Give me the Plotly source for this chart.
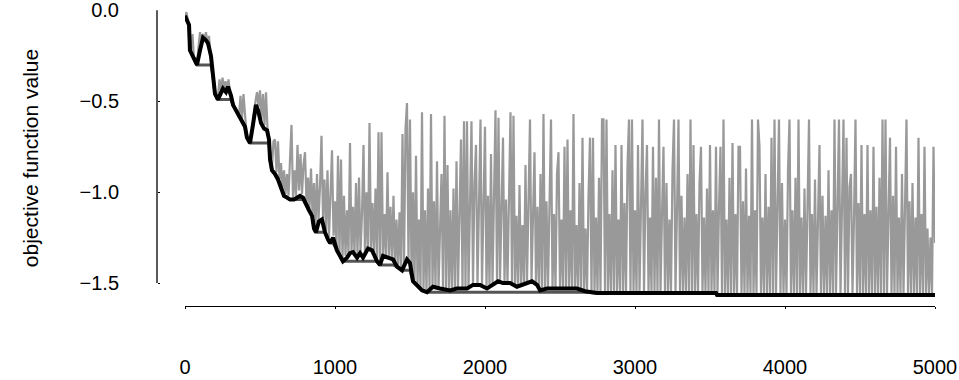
import plotly.graph_objects as go

# Simulated-annealing trace: proposed objective values (every 10th iteration)
proposal_step = 10
proposal_values = [
    -0.03, -0.01, -0.06, -0.15, -0.22, -0.13, -0.27, -0.26, -0.30, -0.20, -0.12, -0.18, -0.13, -0.16, -0.12, -0.19, -0.14, -0.24, -0.30, -0.40,
    -0.45, -0.49, -0.47, -0.38, -0.44, -0.37, -0.43, -0.39, -0.44, -0.38, -0.45, -0.47, -0.50, -0.53, -0.54, -0.56, -0.58, -0.47, -0.60, -0.46,
    -0.55, -0.68, -0.71, -0.72, -0.70, -0.62, -0.55, -0.50, -0.45, -0.53, -0.44, -0.60, -0.46, -0.63, -0.45, -0.65, -0.70, -0.81, -0.86, -0.72,
    -0.71, -0.89, -0.72, -0.93, -0.84, -0.98, -0.88, -1.01, -0.90, -1.02, -0.82, -0.63, -1.03, -0.88, -1.02, -0.74, -0.99, -0.79, -1.01, -0.85,
    -0.78, -1.06, -0.92, -1.09, -0.87, -1.12, -0.95, -1.20, -0.90, -1.15, -0.97, -0.69, -1.14, -0.93, -1.21, -0.88, -1.25, -0.99, -0.77, -1.24,
    -1.05, -1.31, -0.80, -1.34, -0.82, -1.37, -1.02, -1.35, -1.10, -1.34, -0.73, -1.33, -1.08, -1.34, -0.95, -1.35, -0.92, -1.33, -1.12, -0.74,
    -1.35, -1.00, -1.31, -0.62, -1.32, -1.06, -1.33, -0.98, -1.37, -0.67, -1.39, -0.67, -1.35, -1.12, -1.36, -0.89, -1.36, -1.08, -1.37, -1.02,
    -1.40, -1.15, -1.41, -1.11, -1.43, -0.68, -1.42, -0.65, -0.51, -1.38, -0.60, -1.45, -1.00, -1.50, -0.80, -1.51, -1.15, -1.53, -0.56, -1.54,
    -1.10, -1.55, -0.98, -1.53, -0.57, -1.52, -1.05, -1.53, -0.83, -1.53, -1.12, -0.90, -1.53, -0.58, -1.54, -0.85, -1.54, -1.10, -1.54, -0.98,
    -1.53, -0.83, -1.53, -1.12, -0.71, -1.53, -0.61, -1.53, -0.61, -1.53, -1.08, -0.61, -1.51, -0.95, -0.74, -1.51, -1.07, -0.60, -1.51, -1.15,
    -0.64, -1.52, -1.02, -1.52, -0.79, -1.51, -1.06, -0.55, -1.49, -0.59, -1.49, -1.09, -0.70, -1.50, -1.04, -1.50, -0.92, -0.56, -1.50, -0.58,
    -1.51, -1.13, -1.52, -0.96, -1.51, -1.18, -1.51, -0.85, -1.50, -1.06, -0.60, -1.49, -1.10, -0.78, -1.51, -1.08, -1.53, -0.90, -1.54, -0.57,
    -1.53, -1.05, -1.53, -0.98, -0.60, -1.53, -1.12, -1.53, -0.90, -0.78, -1.53, -1.15, -1.53, -0.75, -1.53, -0.71, -1.53, -1.10, -1.53, -0.57,
    -1.53, -1.18, -1.54, -0.95, -1.54, -0.70, -1.54, -1.20, -1.55, -1.02, -0.70, -1.55, -0.70, -1.55, -1.14, -1.55, -0.92, -1.55, -0.60, -0.60,
    -1.55, -0.60, -1.55, -1.12, -1.55, -0.88, -1.55, -0.74, -1.55, -1.15, -1.55, -0.74, -1.55, -1.06, -1.55, -0.85, -0.60, -1.55, -0.60, -1.55,
    -1.10, -1.55, -0.74, -1.55, -1.13, -0.60, -1.55, -1.00, -0.74, -1.55, -1.14, -1.55, -0.75, -1.55, -0.92, -1.55, -0.60, -1.55, -1.12, -0.75,
    -1.55, -0.95, -1.55, -1.15, -1.55, -0.88, -0.60, -1.55, -1.10, -0.60, -1.55, -1.02, -1.55, -1.14, -1.55, -0.90, -1.55, -0.60, -1.55, -0.74,
    -1.55, -1.12, -1.55, -0.95, -0.75, -1.55, -1.14, -1.55, -0.98, -1.55, -0.74, -1.55, -1.10, -1.55, -0.75, -1.56, -1.08, -0.75, -1.56, -0.60,
    -1.56, -1.15, -1.56, -0.92, -1.56, -0.73, -1.56, -1.12, -1.56, -0.75, -0.75, -1.56, -1.05, -1.56, -0.87, -1.56, -1.13, -1.56, -0.60, -1.56,
    -1.10, -1.56, -0.60, -0.75, -1.56, -1.14, -1.56, -0.90, -1.56, -1.08, -1.56, -0.70, -1.56, -0.60, -1.56, -1.12, -0.60, -1.56, -0.95, -1.56,
    -1.15, -1.56, -0.88, -0.60, -1.56, -1.10, -1.56, -0.92, -1.56, -0.60, -1.56, -1.14, -1.56, -0.98, -1.56, -1.08, -0.60, -1.56, -1.12, -1.56,
    -0.93, -1.56, -1.15, -0.74, -1.56, -1.02, -1.56, -1.13, -1.56, -0.88, -1.56, -1.10, -1.56, -0.60, -1.56, -0.96, -0.60, -1.56, -1.12, -0.60,
    -1.56, -0.70, -1.56, -0.97, -0.90, -1.56, -1.14, -0.60, -1.56, -1.06, -1.56, -0.74, -1.56, -1.12, -1.56, -0.74, -1.56, -1.10, -1.56, -0.75,
    -1.56, -1.08, -1.56, -0.92, -1.56, -0.60, -1.56, -0.60, -1.56, -1.12, -0.70, -1.56, -1.02, -1.56, -0.75, -1.56, -1.14, -1.56, -0.90, -1.56,
    -1.10, -0.60, -1.56, -1.05, -1.56, -0.95, -1.56, -1.14, -1.56, -0.70, -1.56, -1.12, -1.56, -0.75, -1.56, -1.20, -1.56, -1.25, -1.56, -0.75,
    -1.28,
]
proposal_iter = [i * proposal_step for i in range(len(proposal_values))]

# Current state of the chain
current_iter = [
    0, 13, 27, 33, 53, 80, 100, 120, 140, 153, 173, 187, 200, 220, 240, 253, 273, 287, 307, 320,
    340, 367, 387, 400, 413, 433, 453, 473, 487, 507, 527, 547, 560, 567, 580, 600, 620, 640, 660, 680,
    700, 727, 747, 767, 787, 807, 827, 847, 860, 873, 893, 913, 933, 953, 967, 987, 1013, 1053, 1080, 1100,
    1120, 1147, 1167, 1187, 1220, 1247, 1280, 1300, 1320, 1353, 1387, 1413, 1447, 1480, 1500, 1520, 1547, 1580, 1613, 1653,
    1700, 1767, 1813, 1880, 1920, 1967, 2013, 2053, 2087, 2120, 2167, 2213, 2253, 2313, 2347, 2367, 2413, 2480, 2547, 2613,
    2667, 2747, 2987, 3540, 3547, 5000,
]
current_values = [
    -0.03, -0.05, -0.08, -0.22, -0.25, -0.30, -0.22, -0.15, -0.165, -0.18, -0.25, -0.36, -0.46, -0.49, -0.45, -0.43, -0.45, -0.42, -0.47, -0.52,
    -0.55, -0.59, -0.62, -0.64, -0.70, -0.73, -0.63, -0.52, -0.55, -0.62, -0.65, -0.66, -0.71, -0.82, -0.88, -0.90, -0.93, -0.97, -1.02, -1.03,
    -1.04, -1.04, -1.03, -1.02, -1.03, -1.07, -1.10, -1.13, -1.20, -1.22, -1.16, -1.15, -1.22, -1.26, -1.28, -1.25, -1.32, -1.38, -1.36, -1.335,
    -1.33, -1.36, -1.335, -1.36, -1.31, -1.32, -1.38, -1.40, -1.35, -1.36, -1.37, -1.41, -1.43, -1.37, -1.39, -1.49, -1.51, -1.54, -1.55, -1.52,
    -1.53, -1.54, -1.53, -1.53, -1.51, -1.51, -1.53, -1.51, -1.49, -1.50, -1.50, -1.52, -1.51, -1.49, -1.51, -1.54, -1.53, -1.53, -1.53, -1.53,
    -1.545, -1.555, -1.555, -1.555, -1.566, -1.566,
]

# Best value found so far
best_values = []
running = float("inf")
for v in current_values:
    running = min(running, v)
    best_values.append(running)

y_ticks = [0.0, -0.5, -1.0, -1.5]
x_ticks = [0, 1000, 2000, 3000, 4000, 5000]

FONT = "Liberation Sans, Arial, Helvetica, sans-serif"

fig = go.Figure()
fig.add_trace(go.Scatter(
    x=proposal_iter, y=proposal_values, mode="lines",
    line=dict(color="#999999", width=2.2), hoverinfo="skip", showlegend=False,
))
fig.add_trace(go.Scatter(
    x=current_iter, y=best_values, mode="lines",
    line=dict(color="#555555", width=3), hoverinfo="skip", showlegend=False,
))
fig.add_trace(go.Scatter(
    x=current_iter, y=current_values, mode="lines",
    line=dict(color="#000000", width=4, shape="linear"), hoverinfo="skip", showlegend=False,
))

# Left axis line spans only the labelled range
fig.add_shape(type="line", xref="paper", yref="y", x0=0, x1=0,
              y0=y_ticks[0], y1=y_ticks[-1], line=dict(color="black", width=1.3))

plot_w = 959 - 157 - 24
fig.update_layout(
    width=959, height=380,
    margin=dict(l=157, r=24, t=10, b=74),
    paper_bgcolor="white", plot_bgcolor="white",
    font=dict(family=FONT, size=20, color="black"),
    showlegend=False,
    xaxis=dict(
        domain=[28 / plot_w, 1], range=[0, 5000], tickvals=x_ticks, automargin=False,
        showgrid=False, zeroline=False, showline=True, linecolor="black", linewidth=1.3,
        ticks="outside", ticklen=2, tickcolor="black", ticklabelstandoff=41,
        ticklabeloverflow="allow",
    ),
    yaxis=dict(
        anchor="free", position=0, range=[-1.626, 0.002], tickvals=y_ticks, tickformat=".1f",
        automargin=False, showgrid=False, zeroline=False, showline=False,
        ticks="inside", ticklen=2, tickcolor="black", ticklabelstandoff=38,
        ticklabeloverflow="allow",
        title=dict(text="objective function value", standoff=34, font=dict(size=21)),
    ),
)

fig.write_html("out.html", config={"displayModeBar": False})
